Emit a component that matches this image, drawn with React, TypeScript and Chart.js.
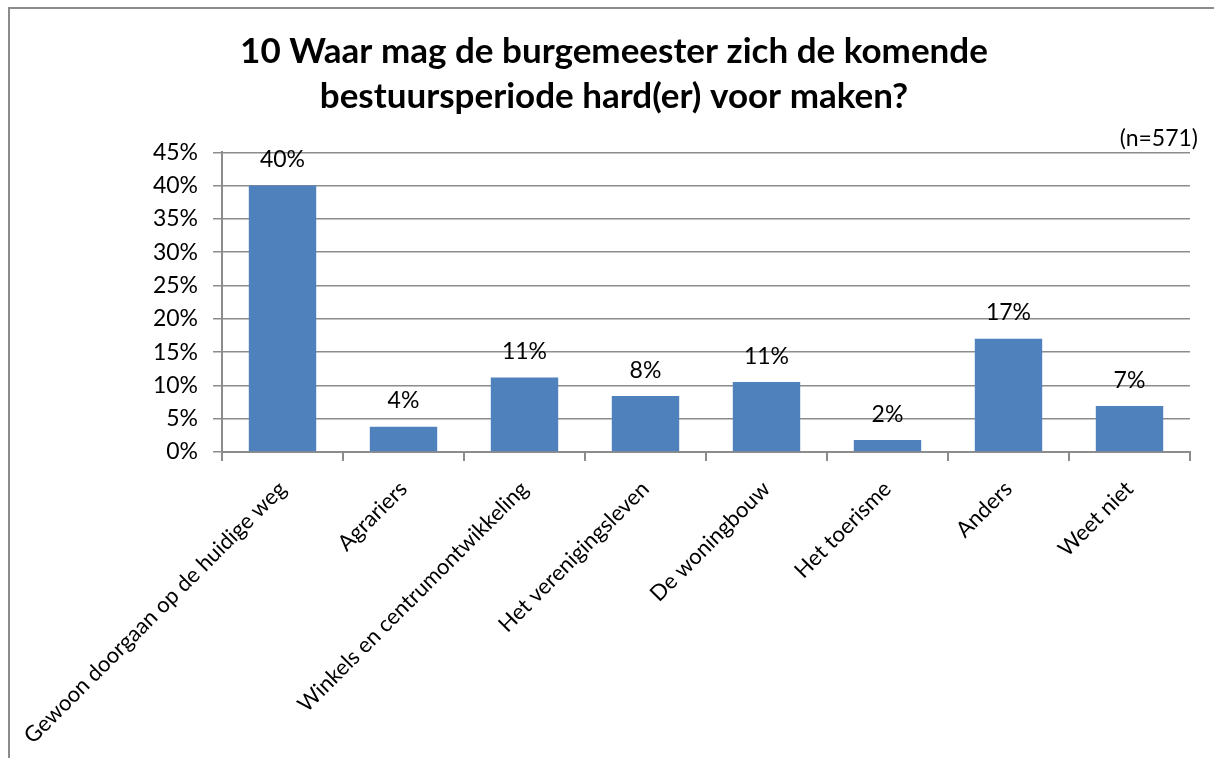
import React, { useEffect, useRef } from "react";
import { Chart, registerables } from "chart.js";

Chart.register(...registerables);

const titleLines = [
  "10 Waar mag de burgemeester zich de komende",
  "bestuursperiode hard(er) voor maken?",
];
const sampleNote = "(n=571)";
const categories = [
  "Gewoon doorgaan op de huidige weg",
  "Agrariers",
  "Winkels en centrumontwikkeling",
  "Het verenigingsleven",
  "De woningbouw",
  "Het toerisme",
  "Anders",
  "Weet niet",
];
const values = [40.0, 3.8, 11.2, 8.4, 10.5, 1.8, 17.0, 6.9];
const yMin = 0;
const yMax = 45;
const yStep = 5;

const FONT = "Lato, 'Open Sans', sans-serif";
const GRID = "#8c8c8c";

const labelPlugin = {
  id: "valueLabels",
  afterDatasetsDraw(chart: any) {
    const ctx = chart.ctx;
    const meta = chart.getDatasetMeta(0);
    ctx.save();
    ctx.font = `23px ${FONT}`;
    ctx.fillStyle = "#000";
    ctx.textAlign = "center";
    ctx.textBaseline = "alphabetic";
    meta.data.forEach((bar: any, i: number) => {
      ctx.fillText(Math.round(values[i]) + "%", bar.x, bar.y - 18.5);
    });
    ctx.textAlign = "right";
    ctx.fillText(sampleNote, chart.chartArea.right + 8, chart.chartArea.top - 6);
    ctx.restore();
  },
};

export default function App() {
  const ref = useRef<HTMLCanvasElement | null>(null);
  useEffect(() => {
    if (!ref.current) return;
    const chart = new Chart(ref.current, {
      type: "bar",
      data: {
        labels: categories,
        datasets: [
          {
            data: values,
            backgroundColor: "#4F81BD",
            barPercentage: 0.557,
            categoryPercentage: 1,
          },
        ],
      },
      options: {
        animation: false,
        responsive: false,
        layout: { padding: { left: 28, right: 24, top: 0, bottom: 0 } },
        plugins: {
          legend: { display: false },
          tooltip: { enabled: false },
          title: {
            display: true,
            text: titleLines,
            color: "#000",
            font: { family: FONT, size: 35, weight: "bold", lineHeight: 1.29 },
            padding: { top: 20, bottom: 33 },
          },
        },
        scales: {
          x: {
            afterFit: (scale: any) => {
              scale.height = 306;
              scale.paddingLeft = 0;
              scale.paddingRight = 0;
            },
            grid: {
              display: true,
              drawOnChartArea: false,
              drawTicks: true,
              tickLength: 9,
              offset: true,
              color: GRID,
              lineWidth: 2,
            },
            border: { display: true, color: GRID, width: 2 },
            ticks: {
              autoSkip: false,
              maxRotation: 45,
              minRotation: 45,
              color: "#000",
              font: { family: FONT, size: 22 },
              padding: 15,
            },
          },
          y: {
            min: yMin,
            max: yMax,
            afterFit: (scale: any) => {
              scale.width = 184;
            },
            grid: {
              color: GRID,
              lineWidth: 1.5,
              drawTicks: true,
              tickLength: 9,
            },
            border: { display: true, color: GRID, width: 2 },
            ticks: {
              stepSize: yStep,
              color: "#000",
              font: { family: FONT, size: 23 },
              padding: 15,
              callback: (v: any) => v + "%",
            },
          },
        },
      },
      plugins: [labelPlugin],
    });
    return () => chart.destroy();
  }, []);

  return (
    <div style={{ position: "fixed", left: 0, top: 0, width: 1214, height: 758, background: "#fff", overflow: "hidden" }}>
      <div
        style={{
          position: "absolute",
          left: 8,
          top: 7,
          width: 1206,
          height: 751,
          borderTop: `2px solid ${GRID}`,
          borderLeft: `2px solid ${GRID}`,
          boxSizing: "border-box",
        }}
      />
      <canvas ref={ref} width={1204} height={749} style={{ position: "absolute", left: 10, top: 9 }} />
    </div>
  );
}
